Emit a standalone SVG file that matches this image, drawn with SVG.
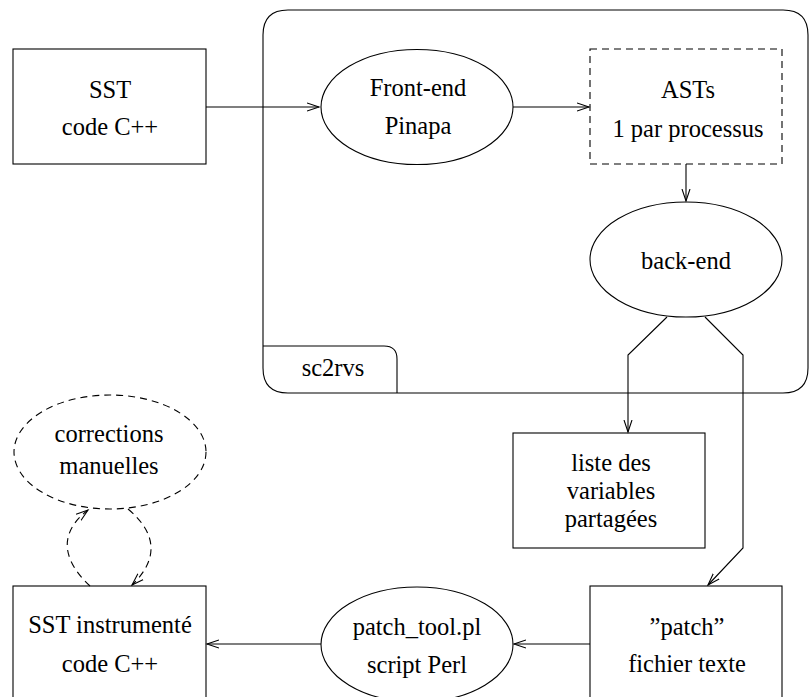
<svg xmlns="http://www.w3.org/2000/svg" width="810" height="697" viewBox="0 0 810 697" font-family="'Liberation Serif', 'Times New Roman', Times, 'DejaVu Serif', serif">
<style>
text{font-family:'Liberation Serif','Times New Roman',Times,'DejaVu Serif',serif;font-size:24.5px;fill:#000;text-anchor:middle}
.s{fill:none;stroke:#000;stroke-width:1.1}
.d{fill:none;stroke:#000;stroke-width:1.1;stroke-dasharray:7,5}
.c{fill:none;stroke:#000;stroke-width:1.1;marker-end:url(#ah)}
.cd{fill:none;stroke:#000;stroke-width:1.1;stroke-dasharray:7,5;marker-end:url(#ah)}
</style>
<defs>
<marker id="ah" markerUnits="userSpaceOnUse" markerWidth="14" markerHeight="12" refX="12" refY="5" orient="auto" viewBox="0 0 14 10">
<path d="M0,1 L12,5 L0,9" fill="none" stroke="#000" stroke-width="1.1" stroke-dasharray="none"/>
</marker>
</defs>
<rect width="810" height="697" fill="#fff"/>
<g id="sc2rvs">
<path class="s" d="M288,10 H783 Q808,10 808,35 V368 Q808,393 783,393 H288 Q263,393 263,368 V35 Q263,10 288,10 Z"/>
<path class="s" d="M263,346 H384 Q397,346 397,359 V393"/>
<text x="333" y="376">sc2rvs</text>
</g>
<g id="sst">
<rect class="s" x="13" y="49" width="193" height="115"/>
<text x="110" y="98">SST</text>
<text x="110" y="135">code C++</text>
</g>
<g id="frontend">
<ellipse class="s" cx="417" cy="107" rx="96" ry="57.5"/>
<text x="418" y="96">Front-end</text>
<text x="418" y="134">Pinapa</text>
</g>
<g id="asts">
<rect class="d" x="590" y="49" width="192" height="115"/>
<text x="688" y="98">ASTs</text>
<text x="688" y="137">1 par processus</text>
</g>
<g id="backend">
<ellipse class="s" cx="686" cy="259.5" rx="96" ry="57.5"/>
<text x="686" y="269">back-end</text>
</g>
<g id="liste">
<rect class="s" x="513" y="433" width="192" height="115"/>
<text x="611" y="471">liste des</text>
<text x="611" y="499">variables</text>
<text x="611" y="527">partagées</text>
</g>
<g id="patch">
<rect class="s" x="590" y="586" width="192" height="115"/>
<text x="687" y="635">”patch”</text>
<text x="687" y="672">fichier texte</text>
</g>
<g id="patchtool">
<ellipse class="s" cx="417" cy="644.5" rx="96" ry="57.5"/>
<text x="417" y="635">patch_tool.pl</text>
<text x="417" y="673">script Perl</text>
</g>
<g id="sstinstr">
<rect class="s" x="13" y="586" width="193" height="115"/>
<text x="110" y="633">SST instrumenté</text>
<text x="110" y="672">code C++</text>
</g>
<g id="corrections">
<ellipse class="d" cx="110" cy="452" rx="96" ry="57"/>
<text x="109" y="442">corrections</text>
<text x="109" y="474">manuelles</text>
</g>
<g id="connectors">
<path class="c" d="M206,107 H319"/>
<path class="c" d="M513,107 H589"/>
<path class="c" d="M686,164 V201"/>
<path class="c" d="M667,317 L628,355 V432"/>
<path class="c" d="M705,317 L743,355 V548 L708,585"/>
<path class="c" d="M590,644 H514"/>
<path class="c" d="M321,644 H207"/>
<path class="cd" d="M90,586 C58,556 62,530 88,510"/>
<path class="cd" d="M128,509 C158,534 158,560 132,585"/>
</g>
</svg>
